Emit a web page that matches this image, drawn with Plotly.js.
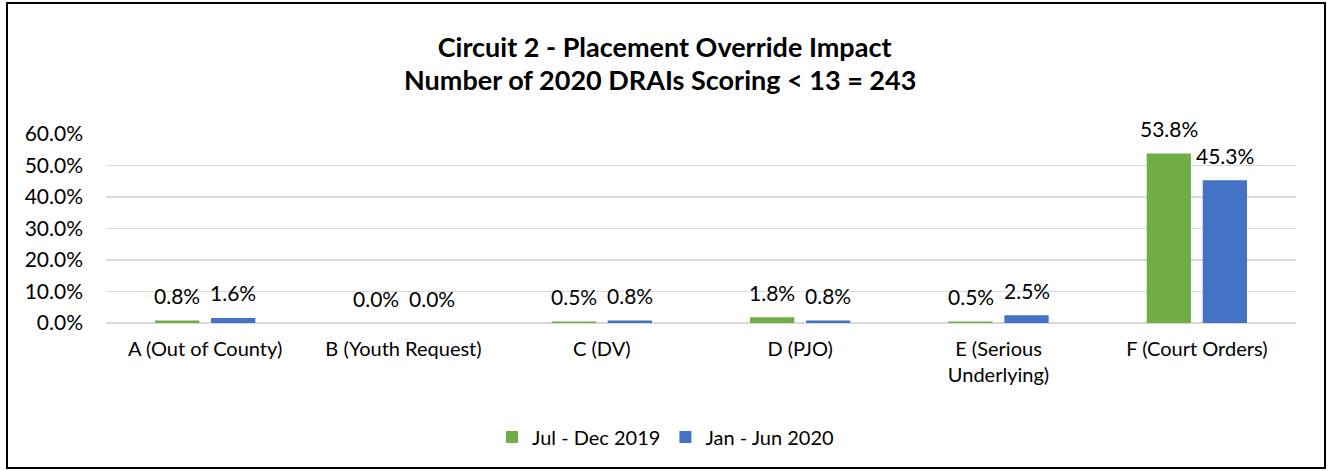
<!DOCTYPE html>
<html>
<head>
<meta charset="utf-8">
<script src="https://cdn.plot.ly/plotly-3.0.1.min.js"></script>
<style>
html,body{margin:0;padding:0;background:#fff;}
#wrap{position:relative;width:1331px;height:471px;}
#chart{position:absolute;left:0;top:0;width:1331px;height:471px;}
#frame{position:absolute;left:6px;top:2px;width:1316px;height:463px;border:2px solid #000;pointer-events:none;}
</style>
</head>
<body>
<div id="wrap"><div id="chart"></div><div id="frame"></div></div>
<script>
const titleLine1 = "Circuit 2 - Placement Override Impact";
const titleLine2 = "Number of 2020 DRAIs Scoring &lt; 13 = 243";
const categories = ["A (Out of County)", "B (Youth Request)", "C (DV)", "D (PJO)", "E (Serious<br>Underlying)", "F (Court Orders)"];
const seriesNames = ["Jul - Dec 2019", "Jan - Jun 2020"];
const julDec2019 = [0.008, 0.000, 0.005, 0.018, 0.005, 0.538];
const janJun2020 = [0.016, 0.000, 0.008, 0.008, 0.025, 0.453];
const colors = ["#70AD47", "#4472C4"];
const yTicks = [0, 0.1, 0.2, 0.3, 0.4, 0.5, 0.6];

const FONT = "Lato, 'Open Sans', sans-serif";

const traces = [julDec2019, janJun2020].map((vals, i) => ({
  type: "bar",
  name: seriesNames[i],
  x: categories,
  y: vals,
  marker: {color: colors[i]},
  hoverinfo: "skip"
}));

const annotations = [];
[julDec2019, janJun2020].forEach((vals, i) => {
  vals.forEach((v, j) => {
    annotations.push({
      x: categories[j], y: v, xref: "x", yref: "y",
      text: (v * 100).toFixed(1) + "%",
      showarrow: false,
      xshift: i === 0 ? -28 : 28,
      yshift: 25,
      yanchor: "middle",
      font: {family: FONT, size: 21, color: "#000"}
    });
  });
});
annotations.push({
  text: "<b>" + titleLine2 + "</b>",
  xref: "paper", yref: "paper", x: 0.4655, y: 1.286,
  xanchor: "center", yanchor: "middle", showarrow: false,
  font: {family: FONT, size: 27, color: "#000"}
});

const layout = {
  width: 1331, height: 471,
  margin: {l: 106, r: 35, t: 134, b: 148},
  paper_bgcolor: "#fff", plot_bgcolor: "#fff",
  font: {family: FONT, size: 20, color: "#000"},
  title: {
    text: "<b>" + titleLine1 + "</b>",
    font: {family: FONT, size: 27, color: "#000"},
    x: 0.4993, xanchor: "center", xref: "container",
    y: 0.9, yanchor: "middle", yref: "container"
  },
  barmode: "group",
  bargap: 0.435,
  bargroupgap: 0.21,
  xaxis: {
    type: "category",
    showgrid: false, zeroline: false, showline: false,
    ticks: "", ticklabelstandoff: 12,
    tickfont: {family: FONT, size: 20, color: "#000"}
  },
  yaxis: {
    range: [0, 0.6],
    tickvals: yTicks,
    tickformat: ".1%",
    showgrid: true, gridcolor: "#d9d9d9", gridwidth: 1.5,
    zeroline: true, zerolinecolor: "#d9d9d9", zerolinewidth: 1.5,
    showline: false, ticks: "", ticklabelstandoff: 22,
    tickfont: {family: FONT, size: 21, color: "#000"}
  },
  showlegend: true,
  legend: {
    orientation: "h", x: 0.5, xanchor: "center", xref: "container",
    y: 0.072, yanchor: "middle", yref: "container",
    font: {family: FONT, size: 20, color: "#000"},
    itemwidth: 30, traceorder: "normal"
  },
  annotations: annotations
};

Plotly.newPlot("chart", traces, layout, {displayModeBar: false, staticPlot: true});
</script>
</body>
</html>
